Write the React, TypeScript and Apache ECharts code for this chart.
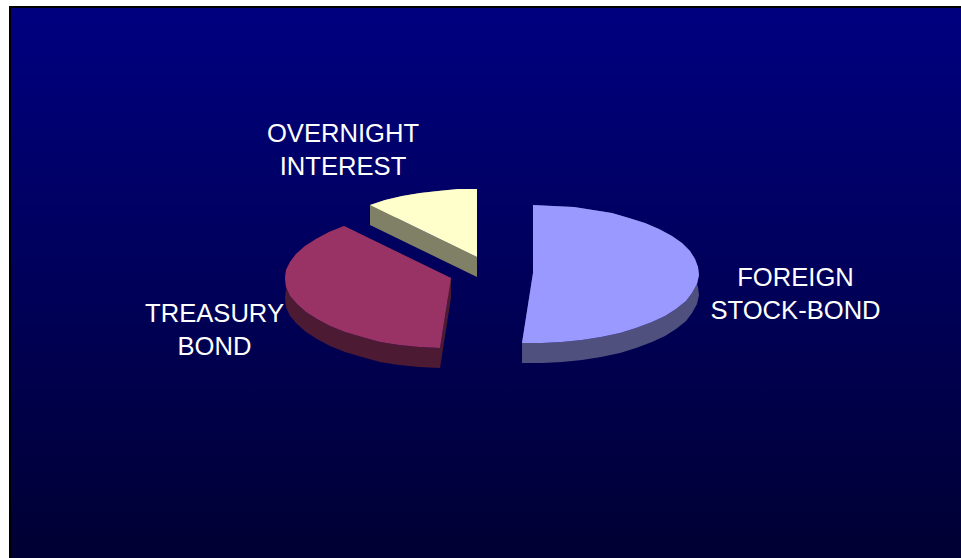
import React, { useEffect, useRef } from "react";
import * as echarts from "echarts";

const categories = ["FOREIGN\nSTOCK-BOND", "TREASURY\nBOND", "OVERNIGHT\nINTEREST"];
const shares = [51.1, 37.7, 11.2];
const topColors = ["#9999FF", "#993366", "#FFFFCC"];
const wallColors = ["#50507F", "#4D1A33", "#808066"];
const apexes = [[533, 273], [451, 278], [477, 257]];
const labelAnchors = [[795.5, 293], [214.5, 329], [343, 149]];

const RX = 166;
const RY_UP = 68;
const RY_DOWN = 70.5;
const DEPTH = 20;
const STEP_DEG = 7;
const FONT = '"Liberation Sans", Arial, sans-serif';

// Rim of an elliptical slice, angles clockwise from straight up, snapped to whole pixels.
function rimPoints(cx: number, cy: number, from: number, to: number) {
  const pts: number[][] = [];
  const n = Math.max(1, Math.round((to - from) / STEP_DEG));
  for (let i = 0; i <= n; i++) {
    const a = ((from + ((to - from) * i) / n) * Math.PI) / 180;
    const c = Math.cos(a);
    pts.push([Math.round(cx + RX * Math.sin(a)), Math.round(cy - c * (c > 0 ? RY_UP : RY_DOWN))]);
  }
  return pts;
}

const dropped = (pts: number[][]) => pts.map(([x, y]) => [x, y + DEPTH]);

export default function App() {
  const ref = useRef<HTMLDivElement>(null);

  useEffect(() => {
    document.body.style.margin = "0";
    document.body.style.overflow = "hidden";
    const chart = echarts.init(ref.current!, undefined, { renderer: "svg" });
    const total = shares.reduce((a, b) => a + b, 0);

    const renderItem = (params: any, api: any) => {
      const i = params.dataIndex;
      let start = 0;
      for (let k = 0; k < i; k++) start += (shares[k] / total) * 360;
      const sweep = (api.value(0) / total) * 360;
      const [cx, cy] = apexes[i];
      const rim = rimPoints(cx, cy, start, start + sweep);
      const apex = [cx, cy];
      const first = rim[0];
      const last = rim[rim.length - 1];
      const wallStyle = { fill: wallColors[i] };

      // One wall along the rim and one per cut edge; the top face hides whatever lies behind it.
      const walls = [
        [...rim, ...dropped(rim).reverse()],
        [apex, first, ...dropped([first, apex])],
        [apex, last, ...dropped([last, apex])],
      ].map((points) => ({ type: "polygon", shape: { points }, style: wallStyle }));

      return {
        type: "group",
        children: [
          ...walls,
          { type: "polygon", shape: { points: [apex, ...rim] }, style: { fill: topColors[i] } },
          {
            type: "text",
            x: labelAnchors[i][0],
            y: labelAnchors[i][1],
            style: {
              text: categories[i],
              fill: "#FFFFFF",
              font: `25.6px ${FONT}`,
              lineHeight: 33,
              align: "center",
              verticalAlign: "middle",
            },
          },
        ],
      };
    };

    chart.setOption({
      animation: false,
      backgroundColor: "#FFFFFF",
      graphic: [
        {
          type: "rect",
          z: -1,
          shape: { x: 10, y: 7, width: 952, height: 552 },
          style: {
            stroke: "#000000",
            lineWidth: 2,
            fill: new echarts.graphic.LinearGradient(0, 0, 0, 1, [
              { offset: 0, color: "#000080" },
              { offset: 1, color: "#000033" },
            ]),
          },
        },
      ],
      series: [
        {
          type: "custom",
          coordinateSystem: "none",
          renderItem,
          data: shares.map((v) => [v]),
          silent: true,
        },
      ],
    });
    return () => chart.dispose();
  }, []);

  return <div ref={ref} style={{ width: 961, height: 558 }} />;
}
